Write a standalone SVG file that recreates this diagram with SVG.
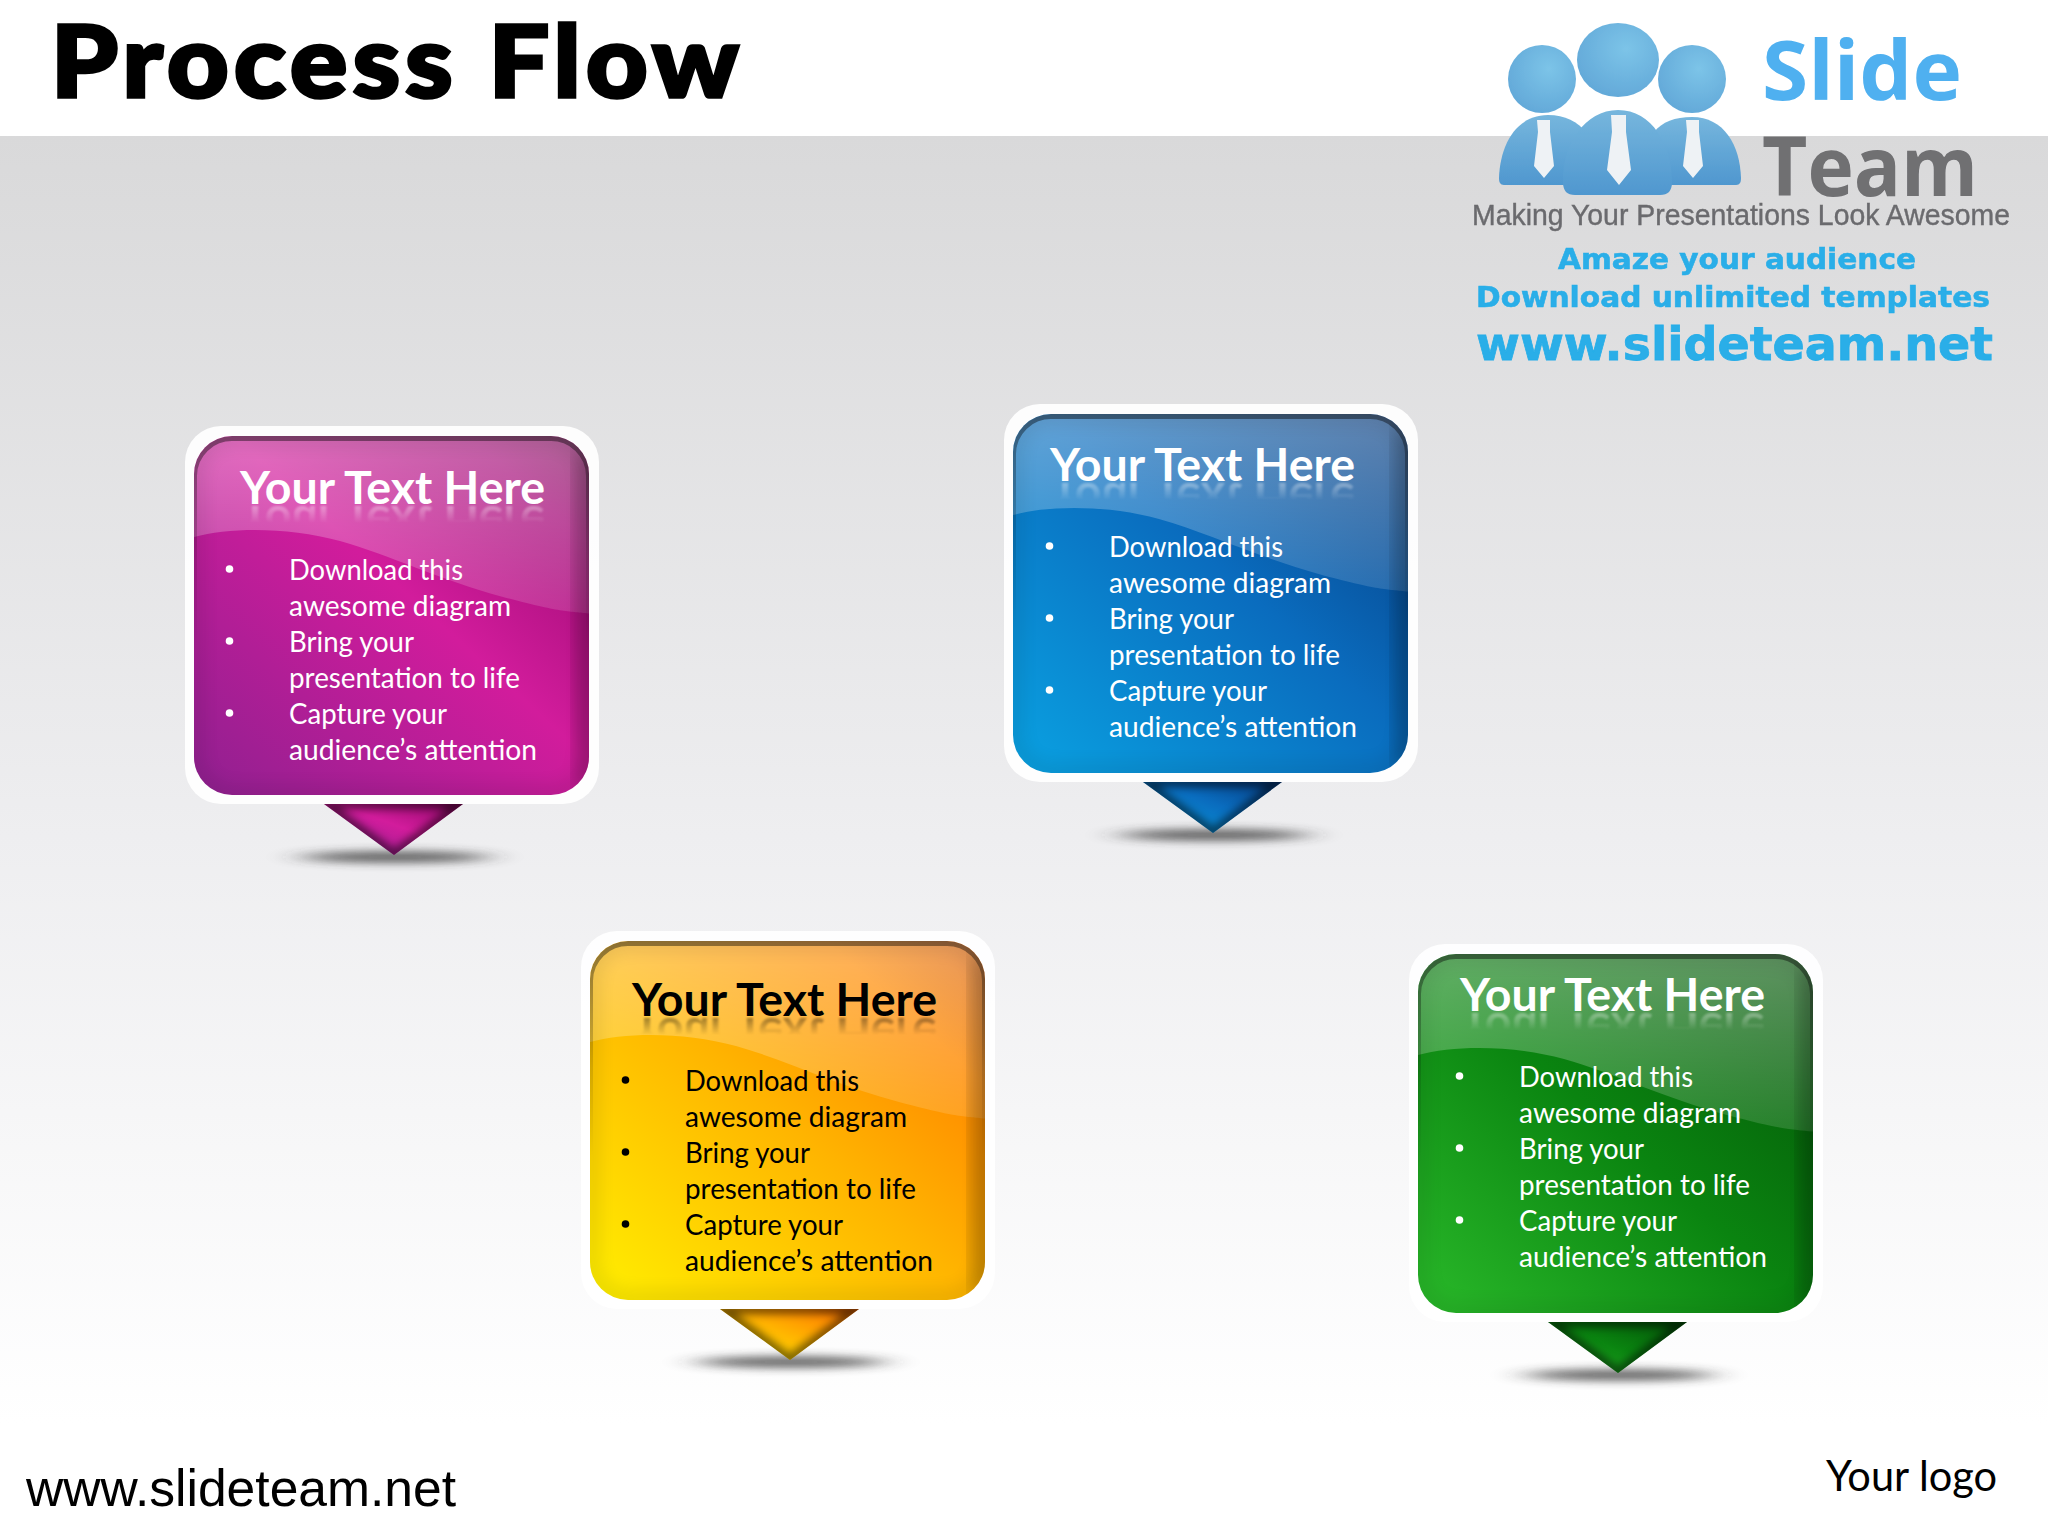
<svg xmlns="http://www.w3.org/2000/svg" width="2048" height="1536" viewBox="0 0 2048 1536">
<style>
.h{font-family:Lato,"Open Sans",sans-serif;font-weight:700;font-size:46.5px}
.b{font-family:Lato,"Open Sans",sans-serif;font-size:28.6px}
.lg{font-family:"DejaVu Sans",sans-serif;font-weight:700;fill:#29aee8}
</style>
<defs>
<linearGradient id="bg" x1="0" y1="0" x2="0" y2="1"><stop offset="0" stop-color="#d9d9da"/><stop offset=".5" stop-color="#eeeef0"/><stop offset=".92" stop-color="#fff"/></linearGradient>
<linearGradient id="gloss" x1="0" y1="0" x2="0" y2="1"><stop offset="0" stop-color="#fff" stop-opacity=".36"/><stop offset="1" stop-color="#fff" stop-opacity=".13"/></linearGradient>
<linearGradient id="refl" x1="0" y1="0" x2="0" y2="1"><stop offset="0" stop-color="#fff" stop-opacity=".38"/><stop offset="1" stop-color="#fff" stop-opacity="0"/></linearGradient>
<linearGradient id="rim" x1="0" y1="0" x2="0" y2="1"><stop offset="0" stop-color="#000" stop-opacity=".42"/><stop offset=".35" stop-color="#000" stop-opacity=".12"/><stop offset=".6" stop-color="#000" stop-opacity="0"/></linearGradient>
<linearGradient id="pp" x1="0" y1="1" x2="1" y2="0"><stop offset="0" stop-color="#8f2090"/><stop offset=".55" stop-color="#d21c9c"/><stop offset=".85" stop-color="#a60e7a"/><stop offset="1" stop-color="#7e0858"/></linearGradient>
<linearGradient id="bb" x1="0" y1="1" x2="1" y2="0"><stop offset="0" stop-color="#0aa2e2"/><stop offset=".55" stop-color="#0a6cbe"/><stop offset="1" stop-color="#063a7e"/></linearGradient>
<linearGradient id="oo" x1="0" y1="1" x2="1" y2="0"><stop offset="0" stop-color="#fff000"/><stop offset=".5" stop-color="#ffb400"/><stop offset=".8" stop-color="#ff8a00"/><stop offset="1" stop-color="#d85a00"/></linearGradient>
<linearGradient id="gg" x1="0" y1="1" x2="1" y2="0"><stop offset="0" stop-color="#2aba2a"/><stop offset=".5" stop-color="#0a8410"/><stop offset="1" stop-color="#045208"/></linearGradient>
<linearGradient id="bodyp" x1="0" y1="0" x2="0" y2="1"><stop offset="0" stop-color="#76b6dd"/><stop offset="1" stop-color="#4f97cf"/></linearGradient>
<radialGradient id="headp" cx=".6" cy=".35" r=".7"><stop offset="0" stop-color="#7cc4e8"/><stop offset="1" stop-color="#62a8d8"/></radialGradient>
<filter id="sh" x="-50%" y="-400%" width="200%" height="900%"><feGaussianBlur stdDeviation="18 4"/></filter>
<filter id="in" x="-20%" y="-20%" width="140%" height="140%"><feGaussianBlur stdDeviation="10"/></filter>
<filter id="in2" x="-30%" y="-30%" width="160%" height="160%"><feGaussianBlur stdDeviation="4"/></filter>
<filter id="soft" x="-5%" y="-5%" width="110%" height="110%"><feGaussianBlur stdDeviation=".7"/></filter>
<filter id="rb" x="-5%" y="-30%" width="110%" height="160%"><feGaussianBlur stdDeviation=".9"/></filter>
<clipPath id="boxclip"><rect x="194" y="436" width="395" height="359" rx="38"/></clipPath>
<clipPath id="tipclip"><path d="M324 804H463L394 855Z"/></clipPath>
<mask id="rm" maskUnits="userSpaceOnUse" x="200" y="500" width="400" height="40"><rect x="200" y="505" width="400" height="18" fill="url(#refl)"/></mask>
<g id="frame">
<ellipse cx="395" cy="857" rx="94" ry="6" fill="#333" opacity=".72" filter="url(#sh)"/>
<rect x="185" y="426" width="414" height="378" rx="36" fill="#fff" opacity=".93"/>
</g>
<g id="gl">
<path clip-path="url(#boxclip)" d="M194 537C230 527 290 527 340 541S440 580 503 597S570 611 592 614V436H194Z" fill="url(#gloss)"/>
<g clip-path="url(#boxclip)">
 <rect x="194" y="436" width="395" height="359" rx="38" fill="none" stroke="#000" stroke-width="10" opacity=".16" filter="url(#in)"/>
 <rect x="576" y="450" width="26" height="340" fill="#000" opacity=".24" filter="url(#in)"/>
 <path fill-rule="evenodd" fill="url(#rim)" d="M232 436H551A38 38 0 0 1 589 474V757A38 38 0 0 1 551 795H232A38 38 0 0 1 194 757V474A38 38 0 0 1 232 436ZM233 441A35 35 0 0 0 197 476V795H586V476A35 35 0 0 0 550 441Z"/>
</g>
<g clip-path="url(#tipclip)">
 <path d="M324 804H463L394 855Z" fill="none" stroke="#000" stroke-width="10" opacity=".55" filter="url(#in2)"/>
</g>
</g>
<text id="h1" class="h" x="392.5" y="504" text-anchor="middle">Your Text Here</text>
<g id="head"><use href="#h1"/><g mask="url(#rm)"><use href="#h1" transform="translate(0 1010) scale(1 -1)" filter="url(#rb)"/></g></g>
<g id="body">
<circle cx="229.500" cy="569" r="3.8"/><circle cx="229.500" cy="641" r="3.8"/><circle cx="229.500" cy="713" r="3.8"/>
<text class="b" x="289" y="580" textLength="174" lengthAdjust="spacingAndGlyphs">Download this</text>
<text class="b" x="289" y="616" textLength="222" lengthAdjust="spacingAndGlyphs">awesome diagram</text>
<text class="b" x="289" y="652" textLength="125" lengthAdjust="spacingAndGlyphs">Bring your</text>
<text class="b" x="289" y="688" textLength="231" lengthAdjust="spacingAndGlyphs">presentation to life</text>
<text class="b" x="289" y="724" textLength="158" lengthAdjust="spacingAndGlyphs">Capture your</text>
<text class="b" x="289" y="760" textLength="248" lengthAdjust="spacingAndGlyphs">audience’s attention</text>
</g>
</defs>

<rect id="page" width="2048" height="1536" fill="#fff"/>
<rect id="band" y="136" width="2048" height="1400" fill="url(#bg)"/>

<text id="title" x="51" y="97" font-family="Lato,sans-serif" font-weight="900" font-size="100" letter-spacing="5" fill="#000" stroke="#000" stroke-width="3.5" textLength="693" lengthAdjust="spacingAndGlyphs">Process Flow</text>

<g id="logo" filter="url(#soft)">
 <ellipse cx="1542" cy="79" rx="34" ry="34" fill="url(#headp)"/><ellipse cx="1692" cy="79" rx="34" ry="34" fill="url(#headp)"/>
 <path fill="url(#bodyp)" d="M1499 178C1500 145 1516 115 1548 115C1565 115 1578 122 1586 132L1575 185H1504C1500 185 1499 182 1499 178Z"/>
 <path fill="url(#bodyp)" d="M1741 178C1740 145 1724 117 1692 117C1675 117 1662 122 1654 132L1665 185H1736C1740 185 1741 182 1741 178Z"/>
 <ellipse cx="1618" cy="60" rx="41" ry="37" fill="url(#headp)"/>
 <path fill="url(#bodyp)" d="M1563 182C1562 145 1585 110 1618 110C1652 110 1672 145 1672 182C1672 191 1668 195 1660 195H1575C1567 195 1563 191 1563 182Z"/>
 <g fill="#eef2f5">
  <path d="M1537 120h13v12l4 34-10 12-10-12 4-34Z"/><path d="M1611 115h15v17l5 38-12 15-12-15 5-38Z"/><path d="M1686 120h13v12l4 34-10 12-10-12 4-34Z"/>
 </g>
 <text x="1762" y="100" font-family="Open Sans,sans-serif" font-weight="700" font-size="82" fill="#4fb0f0" textLength="200" lengthAdjust="spacingAndGlyphs">Slide</text>
 <text x="1762" y="196" font-family="Open Sans,sans-serif" font-weight="700" font-size="82" fill="#6f6f72" textLength="216" lengthAdjust="spacingAndGlyphs">Team</text>
 <text x="1472" y="225" font-family="Liberation Sans,sans-serif" font-size="29" fill="#6b6b6e" stroke="#6b6b6e" stroke-width=".4" textLength="538" lengthAdjust="spacingAndGlyphs">Making Your Presentations Look Awesome</text>
 <text class="lg" x="1558" y="269" font-size="29" stroke="#29aee8" stroke-width=".6" textLength="358" lengthAdjust="spacingAndGlyphs">Amaze your audience</text>
 <text class="lg" x="1476" y="307" font-size="29" stroke="#29aee8" stroke-width=".6" textLength="514" lengthAdjust="spacingAndGlyphs">Download unlimited templates</text>
 <text class="lg" x="1476" y="360" font-size="47" stroke="#29aee8" stroke-width=".8" textLength="517" lengthAdjust="spacingAndGlyphs">www.slideteam.net</text>
</g>

<g id="node-pink">
 <use href="#frame"/>
 <rect x="194" y="436" width="395" height="359" rx="38" fill="url(#pp)"/>
 <path d="M324 804H463L394 855Z" fill="url(#pp)"/>
 <use href="#gl"/>
 <use href="#head" fill="#fff"/>
 <use href="#body" fill="#fff"/>
</g>
<g id="node-blue">
 <g transform="translate(819 -22)">
 <use href="#frame"/>
 <rect x="194" y="436" width="395" height="359" rx="38" fill="url(#bb)"/>
 <path d="M324 804H463L394 855Z" fill="url(#bb)"/>
 <use href="#gl"/>
 </g>
 <use href="#head" fill="#fff" transform="translate(810 -23)"/>
 <use href="#body" fill="#fff" transform="translate(820 -23)"/>
</g>
<g id="node-orange">
 <g transform="translate(396 505)">
 <use href="#frame"/>
 <rect x="194" y="436" width="395" height="359" rx="38" fill="url(#oo)"/>
 <path d="M324 804H463L394 855Z" fill="url(#oo)"/>
 <use href="#gl"/>
 </g>
 <use href="#head" fill="#000" transform="translate(392 512)"/>
 <use href="#body" fill="#000" transform="translate(396 511)"/>
</g>
<g id="node-green">
 <g transform="translate(1224 518)">
 <use href="#frame"/>
 <rect x="194" y="436" width="395" height="359" rx="38" fill="url(#gg)"/>
 <path d="M324 804H463L394 855Z" fill="url(#gg)"/>
 <use href="#gl"/>
 </g>
 <use href="#head" fill="#fff" transform="translate(1220 507)"/>
 <use href="#body" fill="#fff" transform="translate(1230 507)"/>
</g>

<text id="footer" x="26" y="1506" font-family="Liberation Sans,sans-serif" font-size="52" fill="#000" textLength="430" lengthAdjust="spacingAndGlyphs">www.slideteam.net</text>
<text id="yourlogo" x="1826" y="1491" font-family="Lato,sans-serif" font-size="43" fill="#000" textLength="171" lengthAdjust="spacingAndGlyphs">Your logo</text>
</svg>
